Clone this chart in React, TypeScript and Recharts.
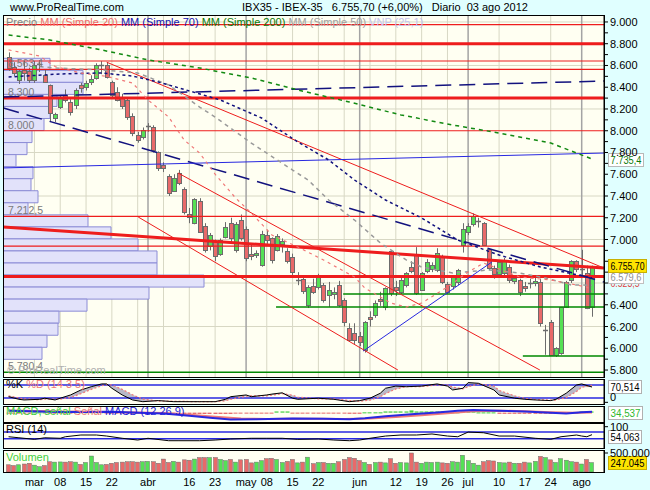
import React from "react";
import {
  ComposedChart,
  Bar,
  Line,
  Area,
  XAxis,
  YAxis,
  CartesianGrid,
  ReferenceLine,
  ReferenceArea,
} from "recharts";

// IBEX-35 daily candles, 23 feb - 03 ago 2012 (index 0 = 23 feb)
const opens = [
  8680, 8590, 8470, 8560, 8545, 8470, 8600, 8515, 8420, 8120,
  8220, 8330, 8265, 8235, 8420, 8400, 8450, 8485, 8590, 8605,
  8450, 8360, 8310, 8283, 8135, 7960, 7945, 8035, 8035, 7805,
  7685, 7585, 7445, 7610, 7460, 7230, 7155, 7355, 7120, 6940,
  6985, 6865, 7025, 7155, 6905, 7180, 7095, 6865, 6860, 6765,
  7045, 7010, 6905, 6955, 6890, 6840, 6620, 6635, 6395, 6570,
  6560, 6580, 6490, 6500, 6580, 6445, 6185, 6140, 6115, 5980,
  6290, 6305, 6450, 6380, 6890, 6560, 6520, 6580, 6750, 6860,
  6540, 6710, 6725, 6720, 6840, 6590, 6570, 6610, 6950, 7070,
  7145, 7165, 7150, 6910, 6735, 6685, 6690, 6745, 6620, 6630,
  6570, 6595, 6600, 6610, 6160, 6245, 5940, 5955, 6380, 6630,
  6800, 6720, 6695, 6375,
];
const highs = [
  8720, 8630, 8560, 8640, 8580, 8640, 8650, 8560, 8425, 8165,
  8320, 8380, 8290, 8390, 8440, 8460, 8510, 8620, 8640, 8630,
  8460, 8400, 8340, 8300, 8160, 7990, 8030, 8070, 8050, 7810,
  7710, 7600, 7600, 7640, 7480, 7290, 7380, 7380, 7150, 7060,
  7000, 7010, 7160, 7200, 7160, 7230, 7120, 6960, 6900, 7080,
  7090, 7020, 7050, 7010, 6920, 6870, 6700, 6660, 6580, 6640,
  6685, 6600, 6610, 6560, 6620, 6460, 6230, 6230, 6150, 6250,
  6340, 6440, 6520, 6560, 6900, 6620, 6650, 6700, 6800, 6930,
  6700, 6820, 6790, 6920, 6860, 6610, 6670, 6730, 7150, 7150,
  7240, 7200, 7160, 6920, 6760, 6800, 6830, 6770, 6660, 6640,
  6610, 6640, 6660, 6640, 6215, 6260, 6010, 6380, 6620, 6810,
  6810, 6905, 6760, 6760,
];
const lows = [
  8550, 8500, 8430, 8460, 8440, 8440, 8540, 8440, 8080, 8080,
  8200, 8260, 8140, 8200, 8350, 8370, 8420, 8470, 8520, 8480,
  8300, 8270, 8200, 8100, 7950, 7890, 7920, 7990, 7800, 7630,
  7620, 7400, 7440, 7500, 7230, 7150, 7140, 7060, 6880, 6900,
  6800, 6850, 7010, 6960, 6880, 6990, 6800, 6810, 6830, 6750,
  6960, 6780, 6890, 6880, 6780, 6650, 6580, 6500, 6370, 6500,
  6540, 6420, 6380, 6450, 6380, 6200, 6060, 6040, 6020, 5960,
  6200, 6280, 6390, 6350, 6480, 6480, 6500, 6560, 6690, 6490,
  6530, 6690, 6700, 6700, 6590, 6500, 6540, 6580, 6880, 7040,
  7120, 7110, 6940, 6720, 6640, 6650, 6670, 6600, 6590, 6480,
  6520, 6550, 6570, 6200, 5940, 5930, 5920, 5940, 6370, 6600,
  6700, 6660, 6360, 6290,
];
const closes = [
  8575, 8530, 8545, 8530, 8465, 8600, 8610, 8450, 8165, 8150,
  8300, 8285, 8170, 8375, 8395, 8440, 8475, 8605, 8600, 8495,
  8330, 8285, 8225, 8130, 7980, 7915, 8005, 8045, 7825, 7655,
  7655, 7430, 7570, 7520, 7250, 7210, 7370, 7070, 6905, 7040,
  6850, 6995, 7115, 7010, 7145, 7010, 6830, 6850, 6875, 7055,
  7000, 6810, 7035, 6990, 6805, 6700, 6625, 6530, 6560, 6520,
  6655, 6445, 6535, 6520, 6400, 6245, 6080, 6075, 6060, 6240,
  6265, 6415, 6435, 6550, 6505, 6540, 6630, 6690, 6715, 6510,
  6690, 6795, 6770, 6880, 6610, 6520, 6655, 6720, 7100, 7125,
  7215, 7170, 6945, 6735, 6685, 6790, 6810, 6630, 6645, 6520,
  6550, 6600, 6620, 6235, 6170, 5940, 6000, 6375, 6610, 6800,
  6730, 6725, 6370, 6755.7,
];
// volume, thousands
const volumes = [
  190, 170, 190, 210, 230, 180, 140, 170, 270, 260,
  265, 260, 270, 260, 200, 250, 420, 250, 190, 200,
  230, 250, 260, 270, 270, 260, 270, 280, 270, 230,
  340, 250, 280, 260, 320, 310, 340, 380, 380, 380,
  380, 330, 300, 330, 260, 320, 330, 240, 260, 300,
  350, 360, 330, 250, 280, 330, 240, 260, 390, 220,
  250, 250, 230, 230, 270, 330, 380, 360, 300, 250,
  200, 250, 260, 240, 350, 230, 250, 240, 500, 260,
  230, 260, 250, 260, 240, 230, 270, 260, 440, 300,
  230, 180, 270, 300, 290, 250, 240, 260, 230, 230,
  260, 240, 280, 410, 380, 320, 250, 350, 310, 270,
  260, 210, 330, 247.045,
];
const macdHist = [
  -12, -12, -12, -12, -12, 8, 8, 8, -20, -20,
  -20, -20, -20, 14, 14, 14, 14, 14, 14, -18,
  -18, -18, -18, -18, -18, -18, -18, -18, -18, -18,
  -45, -45, -45, -45, -45, -45, -45, -45, -45, -45,
  -45, -45, -45, -45, -10, -10, -10, -10, -10, -10,
  -10, -10, 40, 40, 40, -8, -8, -8, -8, -8,
  -8, -8, -8, -8, -8, -8, -40, -40, -40, 10,
  10, 10, 10, 40, 40, 40, 40, 40, 75, 40,
  40, 40, 40, 40, 40, 12, 12, 12, 40, 40,
  40, 8, 8, 8, 8, -40, -40, -40, -40, -40,
  -40, -40, -40, -40, -40, -45, -45, -45, -8, -8,
  -8, 40, 40, 40,
];

// x axis labels (candle index)
const tickIdx = [5, 10, 15, 20, 27, 35, 40, 46, 50, 55, 60, 68, 75, 80, 85, 89, 95, 100, 105, 111];
const tickLabels = ["mar", "08", "15", "22", "abr", "16", "23", "may", "08", "15", "22", "jun", "12", "19", "26", "jul", "10", "17", "24", "ago"];
const gridIdx = [5, 10, 15, 20, 25, 30, 35, 40, 50, 55, 60, 65, 70, 75, 80, 85, 95, 100, 105];
const monthIdx = [27, 46, 68, 89, 111];

const priceTicks = [
  5800, 5900, 6000, 6100, 6200, 6300, 6400, 6500, 6600, 6700, 6800,
  6900, 7000, 7100, 7200, 7300, 7400, 7500, 7600, 7700, 7800, 7900,
  8000, 8100, 8200, 8300, 8400, 8500, 8600, 8700, 8800, 8900, 9000,
];
const coveredTicks = [6600, 6800];
const priceGrid = [5800, 6000, 6200, 6400, 6600, 6800, 7000, 7200, 7400, 7600, 7800, 8000, 8200, 8400, 8600, 8800, 9000];

// moving averages [index, price]
const ma20 = [[0, 8743], [6, 8687], [9, 8590], [14, 8530], [19, 8500], [24, 8439], [27, 8283], [31, 8126], [34, 7915], [37, 7795], [40, 7600], [44, 7380], [47, 7244], [51, 7041], [56, 6931], [61, 6812], [67, 6655], [69, 6554], [74, 6416], [77, 6379], [80, 6416], [85, 6563], [89, 6701], [92, 6784], [99, 6655], [105, 6628], [112, 6563], [113, 6523]];
const ma50 = [[6, 8590], [9, 8577], [18, 8559], [25, 8531], [31, 8421], [37, 8218], [40, 8126], [47, 7887], [55, 7639], [58, 7547], [62, 7363], [67, 7179], [72, 6968], [77, 6812], [80, 6747], [86, 6692], [93, 6720], [99, 6692], [104, 6646], [109, 6582], [113, 6580]];
const ma70 = [[0, 8494], [10, 8522], [18, 8531], [24, 8503], [29, 8448], [34, 8380], [41, 8283], [49, 8117], [56, 7897], [62, 7731], [67, 7547], [73, 7363], [80, 7198], [87, 6995], [95, 6857], [103, 6747], [113, 6646]];
const ma200 = [[0, 8880], [8, 8834], [18, 8743], [27, 8651], [37, 8577], [47, 8485], [56, 8375], [66, 8264], [76, 8145], [86, 8053], [95, 7979], [105, 7887], [113, 7740]];

// drawn objects
const redLevels = [8975, 8641, 8563.4, 8000, 7212.5, 6940];
const redThickLevels = [8800, 8300, 6660];
const greenSupports = [[64.8, 6500], [51.8, 6380], [99.6, 5930]];
const greenBase = 5780.4;
const redChannels = [[19, 8630, 115.3, 6738], [32.8, 7612, 102.9, 5800], [25.1, 7207, 75.4, 5800]];
const redThickTrend = [-1, 7115, 115.3, 6738];
const navyTrends = [[-1, 8310, 115.3, 8457], [-1, 8209, 115.3, 6609]];
const blueTrends = [[-1, 7658, 115.3, 7795], [68.7, 5975, 93.6, 6793]];
const lineLabels = [[8563.4, "8.563,4"], [8300, "8.300"], [8000, "8.000"], [7212.5, "7.212,5"], [5780.4, "5.780,4"]];

// volume at price, 25 rows from top to bottom
const vpHigh = 8666;
const vpLow = 5898.5;
const vpVolume = [4.7, 8.0, 8.0, 5.4, 4.7, 4.1, 2.9, 2.4, 1.3, 3.0, 2.8, 3.5, 2.5, 8.5, 10.8, 13.5, 15.4, 15.4, 20.1, 14.6, 8.4, 5.6, 5.5, 4.4, 3.9];

// stochastic
const stochIdx = [0, 2, 3, 6, 7, 9, 10, 12, 14, 16, 18, 19, 20, 22, 24, 26, 29, 32, 37, 40, 42, 43, 46, 47, 50, 51, 53, 55, 56, 60, 63, 66, 68, 70, 72, 73, 75, 77, 80, 83, 85, 86, 88, 89, 91, 94, 95, 98, 100, 102, 105, 106, 108, 110, 111, 113];
const stochK = [26, 14, 11, 14, 19, 11, 19, 34, 57, 72, 85, 85, 65, 34, 11, 3, 8, 3, 3, 3, 14, 26, 34, 26, 34, 38, 44, 19, 14, 19, 14, 3, 8, 19, 42, 65, 75, 72, 75, 85, 75, 57, 65, 91, 88, 57, 34, 19, 14, 11, 8, 14, 42, 80, 85, 70.5];
const stochD = [30, 20, 16, 12, 15, 15, 15, 22, 40, 60, 76, 82, 80, 60, 35, 15, 6, 5, 3, 3, 7, 14, 28, 30, 30, 33, 40, 33, 24, 16, 16, 8, 5, 10, 26, 40, 62, 72, 73, 80, 80, 70, 62, 72, 85, 75, 55, 30, 18, 13, 10, 11, 22, 50, 70, 78];

// macd
const macdIdx = [0, 10, 20, 25, 30, 35, 39, 43, 48, 55, 61, 66, 69, 73, 78, 83, 87, 90, 95, 100, 105, 108, 111, 113];
const macdVal = [60, 20, 30, 0, -27, -108, -175, -230, -220, -197, -210, -220, -186, -118, -51, 7, 61, 85, 61, 40, -7, -27, 17, 27];
const sigIdx = [0, 10, 20, 30, 35, 40, 45, 50, 55, 60, 65, 70, 75, 80, 85, 90, 95, 100, 105, 110, 113];
const sigVal = [70, 35, 25, -10, -70, -140, -195, -215, -205, -205, -212, -200, -150, -90, -20, 45, 65, 50, 15, -5, 5];

// rsi
const rsiIdx = [0, 2, 5, 7, 10, 11, 14, 17, 19, 22, 25, 27, 31, 33, 37, 40, 43, 47, 50, 53, 56, 60, 63, 66, 68, 70, 73, 76, 79, 82, 85, 87, 89, 92, 95, 98, 102, 105, 107, 110, 111, 112, 113];
const rsiVal = [42, 36, 27, 36, 33, 42, 52, 52, 46, 33, 23, 33, 19, 19, 19, 23, 29, 33, 33, 33, 27, 29, 23, 19, 23, 33, 46, 52, 52, 58, 46, 42, 69, 65, 46, 46, 33, 27, 42, 52, 46, 42, 54];

const PAGE_BG = "#E0FFFF";
const PLOT_BG = "#FFFFF2";
const GRID = "#D8D8C4";
const FONT = "'Liberation Sans', Arial, Helvetica, sans-serif";
const RED = "#EE1D1D";
const GREEN_LINE = "#008800";
const NAVY = "#12127E";
const BLUE = "#2828E0";
const SALMON = "#F07878";
const UP = "#55E055";
const DOWN = "#E86A6A";
const EDGE = "#6C6C6C";
const XMIN = -1.085;
const XMAX = 115.32;
const PRICE_DOMAIN = [5736, 9064];
const MAIN_MARGIN = { top: 15, right: 46, bottom: 1, left: 3 };

const candles = opens.map((o, i) => ({
  i,
  o,
  h: highs[i],
  l: lows[i],
  c: closes[i],
  v: volumes[i],
  hist: macdHist[i],
}));
const pairs = (arr: number[][]) => arr.map(([i, p]) => ({ i, p }));
const stochRows = stochIdx.map((i, k) => ({ i, k: stochK[k], d: stochD[k] }));
const macdRows = macdIdx.map((i, k) => ({ i, p: macdVal[k] }));
const sigRows = sigIdx.map((i, k) => ({ i, p: sigVal[k] }));
const rsiRows = rsiIdx.map((i, k) => ({ i, p: rsiVal[k] }));
const vpStep = (vpHigh - vpLow) / vpVolume.length;
const vpRows = vpVolume.map((v, k) => ({
  v,
  hi: vpHigh - k * vpStep,
  lo: vpHigh - (k + 1) * vpStep,
}));

function es(v: number) {
  return String(v).replace(/\B(?=(\d{3})+(?!\d))/g, ".");
}

function Candle(props: any) {
  const { x, y, width, height, payload } = props;
  if (x == null || !payload) return <g />;
  const { o, h, l, c } = payload;
  const cx = Math.round(x + width / 2) + 0.5;
  const at = (v: number) => y + ((h - v) / (h - l)) * height;
  const top = Math.round(at(Math.max(o, c))) + 0.5;
  const bot = Math.round(at(Math.min(o, c))) + 0.5;
  if (Math.abs(c - o) < 12) {
    return (
      <g>
        <line x1={cx} x2={cx} y1={y} y2={y + height} stroke={EDGE} />
        <line x1={cx - 2.5} x2={cx + 2.5} y1={top} y2={top} stroke={EDGE} strokeWidth={1.5} />
      </g>
    );
  }
  return (
    <g>
      <line x1={cx} x2={cx} y1={y} y2={y + height} stroke={EDGE} />
      <rect x={cx - 2} y={top} width={4} height={Math.max(1, bot - top)} fill={c >= o ? UP : DOWN} stroke={EDGE} />
    </g>
  );
}

function VolBar(props: any) {
  const { x, y, width, height, payload } = props;
  if (x == null || !payload) return <g />;
  return (
    <rect
      x={Math.round(x) + 0.5}
      y={y}
      width={Math.max(1, Math.round(width) - 1)}
      height={height}
      fill={payload.c >= payload.o ? UP : DOWN}
      stroke={EDGE}
      strokeWidth={0.5}
    />
  );
}

function HistBar(props: any) {
  const { x, y, width, height, payload } = props;
  if (x == null || !payload) return <g />;
  const top = Math.min(y, y + height);
  return (
    <rect
      x={Math.round(x) + 0.5}
      y={top}
      width={Math.max(1, Math.round(width) - 1)}
      height={Math.max(1, Math.abs(height))}
      fill={payload.hist >= 0 ? "#3FCF3F" : "#E86A6A"}
    />
  );
}

function PriceTick(props: any) {
  const { x, y, payload } = props;
  if (payload.value % 200 !== 0 || coveredTicks.includes(payload.value)) return <g />;
  return (
    <text x={x} y={y} dy={4} fontSize={11} fontFamily={FONT} fill="#000">
      {es(payload.value)}
    </text>
  );
}

function SideTick(props: any) {
  const { x, y, payload, fmt } = props;
  return (
    <text x={x} y={y} dy={4} fontSize={11} fontFamily={FONT} fill="#000">
      {fmt ? fmt(payload.value) : payload.value}
    </text>
  );
}

function Tag(props: any) {
  const { viewBox, text, color, bg, border, dy = 0, w = 37 } = props;
  if (!viewBox) return <g />;
  const x = viewBox.x + viewBox.width + 5;
  const y = Math.round(viewBox.y + dy);
  return (
    <g>
      {bg ? <rect x={x - 0.5} y={y - 6.5} width={w} height={13} fill={bg} stroke={border || "none"} /> : null}
      <text
        x={x + 1.5}
        y={y + 4}
        fontSize={10}
        fontFamily={FONT}
        fill={color}
        textLength={w - 4}
        lengthAdjust="spacingAndGlyphs"
      >
        {text}
      </text>
    </g>
  );
}

function LeftLabel(props: any) {
  const { viewBox, text } = props;
  if (!viewBox) return <g />;
  return (
    <text x={viewBox.x + 5} y={viewBox.y - 2} fontSize={10.5} fontFamily={FONT} fill="#7A7A7A">
      {text}
    </text>
  );
}

const seg = (t: number[]) => [
  { x: t[0], y: t[1] },
  { x: t[2], y: t[3] },
];

function Frame({ top, height }: { top: number; height: number }) {
  return (
    <div
      style={{
        position: "absolute",
        left: 3,
        top,
        width: 602,
        height,
        boxSizing: "border-box",
        border: "1px solid #000",
        pointerEvents: "none",
      }}
    />
  );
}

function Txt({ x, y, color, children, size = 11 }: any) {
  return (
    <div
      style={{
        position: "absolute",
        left: x,
        top: y,
        fontFamily: FONT,
        fontSize: size,
        lineHeight: "13px",
        color,
        whiteSpace: "pre",
      }}
    >
      {children}
    </div>
  );
}

const layer = (top: number, height: number, bg?: string): React.CSSProperties => ({
  position: "absolute",
  left: 0,
  top,
  width: 650,
  height,
  background: bg,
});

const xAxisHidden = (
  <XAxis type="number" dataKey="i" domain={[XMIN, XMAX]} allowDataOverflow hide />
);

export default function App() {
  return (
    <div
      style={{
        position: "absolute",
        left: 0,
        top: 0,
        width: 650,
        height: 490,
        background: PAGE_BG,
        overflow: "hidden",
      }}
    >
      {/* volume */}
      <div style={layer(444, 46, PAGE_BG)}>
        <ComposedChart width={650} height={46} data={candles} margin={{ top: 6, right: 0, bottom: 0, left: 3 }}>
          <CartesianGrid fill={PLOT_BG} stroke="none" />
          <XAxis
            type="number"
            dataKey="i"
            domain={[XMIN, XMAX]}
            allowDataOverflow
            ticks={tickIdx}
            interval={0}
            tickFormatter={(v: number) => tickLabels[tickIdx.indexOf(v)]}
            tickLine={false}
            axisLine={false}
            tickSize={4}
            height={18}
            tick={{ fontSize: 11, fill: "#000", fontFamily: FONT }}
          />
          <YAxis
            orientation="right"
            width={46}
            domain={[0, 579]}
            allowDataOverflow
            ticks={[500]}
            tickSize={4}
            tickLine={{ stroke: "#000" }}
            axisLine={{ stroke: "#000" }}
            tick={<SideTick fmt={(v: number) => es(v * 1000)} />}
          />
          <Bar dataKey="v" barSize={5} shape={VolBar} isAnimationActive={false} />
          <ReferenceLine y={247.045} stroke="none" label={<Tag text="247.045" color="#000" bg="#FFE400" border="#C8B000" w={38} />} />
        </ComposedChart>
      </div>

      {/* rsi */}
      <div style={layer(417, 32, PAGE_BG)}>
        <ComposedChart width={650} height={32} data={rsiRows} margin={{ top: 6, right: 0, bottom: 1, left: 3 }}>
          <CartesianGrid fill={PLOT_BG} stroke="none" />
          {xAxisHidden}
          <YAxis
            orientation="right"
            width={46}
            domain={[-23.1, 121.4]}
            allowDataOverflow
            ticks={[0, 100]}
            tickSize={4}
            tickLine={{ stroke: "#000" }}
            axisLine={{ stroke: "#000" }}
            tick={<SideTick />}
          />
          <ReferenceLine y={70} stroke={BLUE} strokeWidth={1.5} />
          <ReferenceLine y={30} stroke={BLUE} strokeWidth={1.5} />
          <Line dataKey="p" type="linear" stroke="#000" strokeWidth={1} dot={false} isAnimationActive={false} />
          <ReferenceLine y={54.063} stroke="none" label={<Tag text="54,063" color="#000" bg="#FFFFFF" border="#B0B0B0" dy={2} w={33} />} />
        </ComposedChart>
      </div>

      {/* macd */}
      <div style={layer(400, 23, PAGE_BG)}>
        <ComposedChart width={650} height={23} data={candles} margin={{ top: 6, right: 0, bottom: 1, left: 3 }}>
          <CartesianGrid fill={PLOT_BG} stroke="none" />
          {xAxisHidden}
          <YAxis orientation="right" width={46} domain={[-316, 224]} allowDataOverflow ticks={[]} axisLine={{ stroke: "#000" }} />
          <Bar dataKey="hist" barSize={5} shape={HistBar} isAnimationActive={false} />
          <Line data={sigRows} dataKey="p" type="linear" stroke={SALMON} strokeWidth={2} dot={false} isAnimationActive={false} />
          <Line data={macdRows} dataKey="p" type="linear" stroke={BLUE} strokeWidth={2} dot={false} isAnimationActive={false} />
          <ReferenceLine y={27} stroke="none" label={<Tag text="34,537" color="#2EB82E" bg="#FFFFFF" border="#B0B0B0" dy={1} w={34} />} />
        </ComposedChart>
      </div>

      {/* stochastic */}
      <div style={layer(378, 28, PAGE_BG)}>
        <ComposedChart width={650} height={28} data={stochRows} margin={{ top: 1, right: 0, bottom: 2, left: 3 }}>
          <CartesianGrid fill={PLOT_BG} stroke="none" />
          {xAxisHidden}
          <YAxis
            orientation="right"
            width={46}
            domain={[-7.7, 107.7]}
            allowDataOverflow
            ticks={[0]}
            tickSize={4}
            tickLine={{ stroke: "#000" }}
            axisLine={{ stroke: "#000" }}
            tick={<SideTick />}
          />
          <ReferenceLine y={80} stroke={BLUE} strokeWidth={1.5} />
          <ReferenceLine y={20} stroke={BLUE} strokeWidth={1.5} />
          <Area
            dataKey={(d: any) => [Math.min(d.k, d.d), Math.max(d.k, d.d)]}
            type="linear"
            fill="#A8A8BC"
            fillOpacity={0.8}
            stroke="none"
            isAnimationActive={false}
          />
          <Line dataKey="d" type="linear" stroke={SALMON} strokeWidth={1.2} strokeDasharray="2 2" dot={false} isAnimationActive={false} />
          <Line dataKey="k" type="linear" stroke="#000" strokeWidth={1} dot={false} isAnimationActive={false} />
          <ReferenceLine y={70.514} stroke="none" label={<Tag text="70,514" color="#000" bg="#FFFFFF" border="#B0B0B0" w={33} />} />
        </ComposedChart>
      </div>

      {/* price: background grid */}
      <div style={layer(0, 378)}>
        <ComposedChart width={650} height={378} data={candles} margin={MAIN_MARGIN}>
          <CartesianGrid fill={PLOT_BG} stroke={GRID} horizontalValues={priceGrid} verticalValues={gridIdx} />
          {xAxisHidden}
          <YAxis hide domain={PRICE_DOMAIN} allowDataOverflow />
          {monthIdx.map((m) => (
            <ReferenceLine key={"m" + m} x={m} stroke="#A4A4A4" strokeWidth={1.5} />
          ))}
        </ComposedChart>
      </div>

      {/* price: volume at price */}
      <div style={layer(0, 378)}>
        <ComposedChart width={650} height={378} data={vpRows} margin={MAIN_MARGIN}>
          <XAxis type="number" dataKey="v" scale="linear" domain={[0, 60.1]} allowDataOverflow hide />
          <YAxis type="number" dataKey="hi" scale="linear" hide domain={PRICE_DOMAIN} allowDataOverflow />
          {vpRows.map((r, k) => (
            <ReferenceArea
              key={"vp" + k}
              x1={0}
              x2={r.v}
              y1={r.lo}
              y2={r.hi}
              fill="#E2E2FA"
              fillOpacity={1}
              stroke="#8C8CD6"
              strokeWidth={1}
              ifOverflow="hidden"
            />
          ))}
        </ComposedChart>
      </div>

      {/* price: candles and studies */}
      <div style={layer(0, 378)}>
        <ComposedChart width={650} height={378} data={candles} margin={{ ...MAIN_MARGIN, right: 0 }}>
          {xAxisHidden}
          <YAxis
            orientation="right"
            width={46}
            domain={PRICE_DOMAIN}
            allowDataOverflow
            ticks={priceTicks}
            interval={0}
            tickSize={4}
            tickLine={{ stroke: "#000" }}
            axisLine={{ stroke: "#000" }}
            tick={<PriceTick />}
          />
          <Bar dataKey={(d: any) => [d.l, d.h]} barSize={5} shape={Candle} isAnimationActive={false} />
          {redLevels.map((p) => (
            <ReferenceLine key={"r" + p} y={p} stroke={RED} strokeWidth={1.2} />
          ))}
          {redThickLevels.map((p) => (
            <ReferenceLine key={"R" + p} y={p} stroke={RED} strokeWidth={3} />
          ))}
          <ReferenceLine y={greenBase} stroke={GREEN_LINE} strokeWidth={1.5} />
          {greenSupports.map(([i, p]) => (
            <ReferenceLine key={"g" + p} segment={[{ x: i, y: p }, { x: XMAX, y: p }]} stroke={GREEN_LINE} strokeWidth={1.5} ifOverflow="hidden" />
          ))}
          {redChannels.map((t, k) => (
            <ReferenceLine key={"c" + k} segment={seg(t)} stroke={RED} strokeWidth={1} ifOverflow="hidden" />
          ))}
          <ReferenceLine segment={seg(redThickTrend)} stroke={RED} strokeWidth={3} ifOverflow="hidden" />
          {navyTrends.map((t, k) => (
            <ReferenceLine key={"n" + k} segment={seg(t)} stroke={NAVY} strokeWidth={1.5} strokeDasharray="16 8" ifOverflow="hidden" />
          ))}
          {blueTrends.map((t, k) => (
            <ReferenceLine key={"b" + k} segment={seg(t)} stroke={BLUE} strokeWidth={1} ifOverflow="hidden" />
          ))}
          <Line data={pairs(ma200)} dataKey="p" type="linear" stroke="#138A13" strokeWidth={1.5} strokeDasharray="4 4" dot={false} isAnimationActive={false} />
          <Line data={pairs(ma50)} dataKey="p" type="linear" stroke="#9A9A9A" strokeWidth={1.5} strokeDasharray="4 4" dot={false} isAnimationActive={false} />
          <Line data={pairs(ma70)} dataKey="p" type="linear" stroke={NAVY} strokeWidth={1.5} strokeDasharray="3 3" dot={false} isAnimationActive={false} />
          <Line data={pairs(ma20)} dataKey="p" type="linear" stroke={SALMON} strokeWidth={1.2} strokeDasharray="3 4" dot={false} isAnimationActive={false} />
          {lineLabels.map(([p, t]) => (
            <ReferenceLine key={"l" + t} y={p as number} stroke="none" label={<LeftLabel text={t} />} />
          ))}
          <ReferenceLine y={7735.4} stroke="none" label={<Tag text="7.735,4" color="#0B7A0B" bg="#FFFFFF" border="#B8B8B8" w={35} />} />
          <ReferenceLine y={6523.5} stroke="none" label={<Tag text="6.523,5" color="#E04040" bg={PAGE_BG} dy={-8} w={33} />} />
          <ReferenceLine y={6646.5} stroke="none" label={<Tag text="6.646,5" color={NAVY} bg={PAGE_BG} dy={-6} w={33} />} />
          <ReferenceLine y={6579.6} stroke="none" label={<Tag text="6.579,6" color="#909090" bg="#FFFFFF" border="#C0C0C0" dy={-8} w={35} />} />
          <ReferenceLine y={6755.7} stroke="none" label={<Tag text="6.755,70" color="#000" bg="#FFE400" border="#C8B000" w={38} />} />
        </ComposedChart>
      </div>

      <Frame top={15} height={363} />
      <Frame top={379} height={26} />
      <Frame top={406} height={17} />
      <Frame top={423} height={26} />
      <Frame top={450} height={23} />

      <Txt x={10} y={1} color="#000">www.ProRealTime.com</Txt>
      <Txt x={242} y={1} color="#000">{"IBX35 - IBEX-35   6.755,70 (+6,00%)   Diario  03 ago 2012"}</Txt>
      <Txt x={6} y={16} color="#000">
        <span style={{ color: "#808080" }}>Precio </span>
        <span style={{ color: "#F06A6A" }}>MM (Simple 20) </span>
        <span style={{ color: "#1414B4" }}>MM (Simple 70) </span>
        <span style={{ color: "#0A7A0A" }}>MM (Simple 200) </span>
        <span style={{ color: "#A0A0A0" }}>MM (Simple 50) </span>
        <span style={{ color: "#C4C4F0" }}>VNP (25,1)</span>
      </Txt>
      <Txt x={7} y={364} color="#B0B0B0">© ProRealTime.com</Txt>
      <Txt x={6} y={378} color="#000">
        <span>%K </span>
        <span style={{ color: SALMON }}>%D (14 3 5)</span>
      </Txt>
      <Txt x={6} y={405} color="#000">
        <span style={{ color: "#3FCF3F" }}>MACD, señal </span>
        <span style={{ color: SALMON }}>Señal </span>
        <span style={{ color: "#1E1ED8" }}>MACD (12 26 9)</span>
      </Txt>
      <Txt x={6} y={423} color="#000">RSI (14)</Txt>
      <Txt x={6} y={451} color="#3FCF3F">Volumen</Txt>
    </div>
  );
}
